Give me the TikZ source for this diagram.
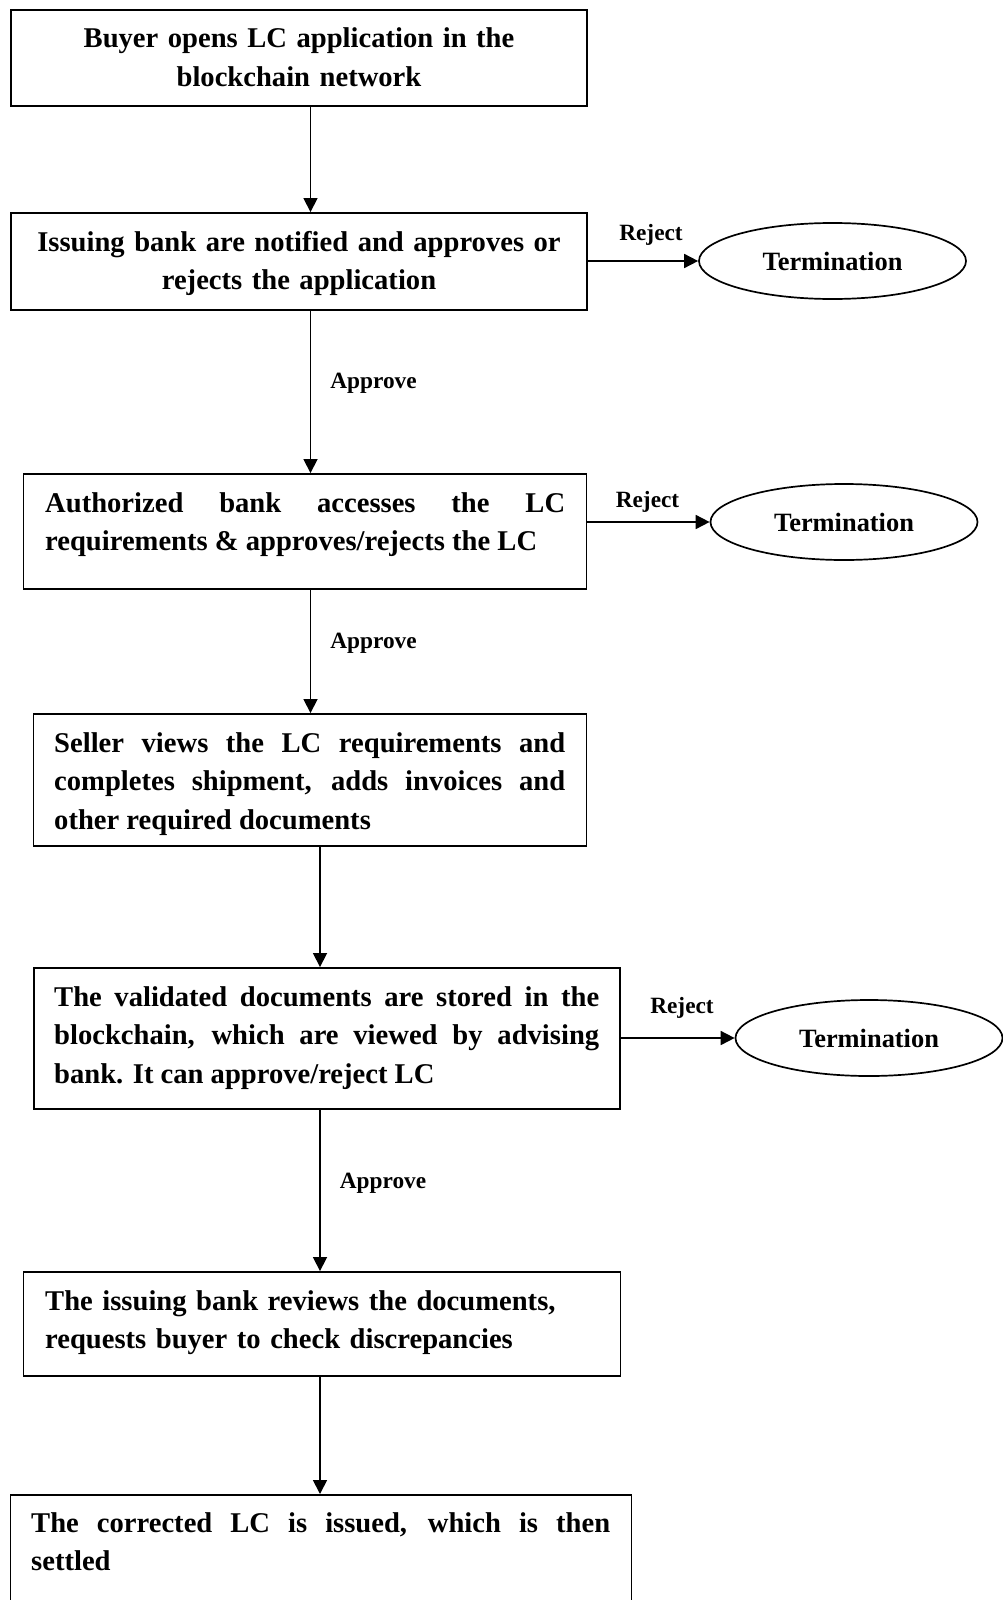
\documentclass[tikz,border=0pt]{standalone}
\usepackage{fontspec}
\setmainfont{Liberation Serif}
\usetikzlibrary{arrows.meta,shapes.geometric}
\newcommand\myboxfont{\bfseries\fontsize{28.6}{38.5}\selectfont\hyphenpenalty=10000\exhyphenpenalty=10000}
\newcommand\mytermfont{\bfseries\fontsize{26.4}{30}\selectfont}
\newcommand\mylblfont{\bfseries\fontsize{23.3}{26}\selectfont}
\tikzset{
  flowbox/.style={draw, rectangle, line width=1.9pt, inner sep=0pt},
  boxtext/.style={inner sep=0pt, font=\myboxfont},
  termnode/.style={draw, ellipse, line width=1.7pt, inner sep=0pt, font=\mytermfont,
                   minimum width=267pt, minimum height=76pt},
  lbl/.style={inner sep=0pt, font=\mylblfont, anchor=base},
  arr/.style={line width=1.7pt, -{Triangle[length=14pt,width=14pt]}}
}
\begin{document}
\begin{tikzpicture}[x=1pt,y=-1pt]
\path[use as bounding box, clip] (0,0) rectangle (1003,1600);

% boxes
\node[flowbox, minimum width=576pt, minimum height=96pt] (b1) at (299,58) {};
\node[flowbox, minimum width=576pt, minimum height=97pt] (b2) at (299,261.5) {};
\node[flowbox, minimum width=563pt, minimum height=115pt] (b3) at (305,531.5) {};
\node[flowbox, minimum width=553pt, minimum height=132pt] (b4) at (310,780) {};
\node[flowbox, minimum width=586pt, minimum height=141pt] (b5) at (327,1038.5) {};
\node[flowbox, minimum width=597pt, minimum height=104pt] (b6) at (322,1324) {};
\node[flowbox, minimum width=621pt, minimum height=240pt, anchor=north] (b7) at (321,1494) {};

% texts
\node[boxtext, text width=570pt, align=center, anchor=base] (t1) at (299,48)
  {Buyer opens LC application in the\\blockchain network};
\node[boxtext, text width=570pt, align=center, anchor=base] (t2) at (299,251)
  {Issuing bank are notified and approves or\\rejects the application};
\node[boxtext, text width=520pt, align=justify, anchor=base west] (t3) at (45,512)
  {Authorized bank accesses the LC\linebreak requirements \& approves/rejects the LC};
\node[boxtext, text width=511pt, align=justify, anchor=base west] (t4) at (54,752)
  {Seller views the LC requirements and\linebreak completes shipment, adds invoices and\linebreak other required documents};
\node[boxtext, text width=545pt, align=justify, anchor=base west] (t5) at (54,1006)
  {The validated documents are stored in the\linebreak blockchain, which are viewed by advising\linebreak bank. It can approve/reject LC};
\node[boxtext, text width=560pt, align=left, anchor=base west] (t6) at (45,1310)
  {The issuing bank reviews the documents,\\requests buyer to check discrepancies};
\node[boxtext, text width=579pt, align=justify, anchor=base west] (t7) at (31,1532)
  {The corrected LC is issued, which is then\linebreak settled};

% terminations
\node[termnode] (e1) at (832.5,261) {Termination};
\node[termnode] (e2) at (844,522) {Termination};
\node[termnode] (e3) at (869,1038) {Termination};

% labels
\node[lbl] (r1) at (651,240) {Reject};
\node[lbl] (r2) at (647.5,507) {Reject};
\node[lbl] (r3) at (682,1013) {Reject};
\node[lbl] (a1) at (373.5,388) {Approve};
\node[lbl] (a2) at (373.5,648) {Approve};
\node[lbl] (a3) at (383,1188) {Approve};

% connector columns
\coordinate (ca) at (310.5,0);
\coordinate (cb) at (320,0);

\draw[arr] (b1.south -| ca) -- (b2.north -| ca);
\draw[arr] (b2.south -| ca) -- (b3.north -| ca);
\draw[arr] (b3.south -| ca) -- (b4.north -| ca);
\draw[arr] (b4.south -| cb) -- (b5.north -| cb);
\draw[arr] (b5.south -| cb) -- (b6.north -| cb);
\draw[arr] (b6.south -| cb) -- (b7.north -| cb);

\draw[arr] (b2.east |- e1.west) -- (e1.west);
\draw[arr] (b3.east |- e2.west) -- (e2.west);
\draw[arr] (b5.east |- e3.west) -- (e3.west);
\end{tikzpicture}
\end{document}
